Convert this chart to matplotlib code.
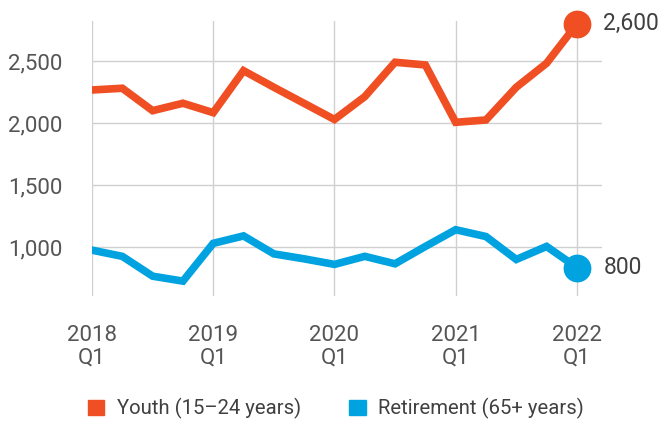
import matplotlib
matplotlib.use("Agg")
import matplotlib.pyplot as plt
from matplotlib.patches import Patch
from matplotlib.ticker import FuncFormatter

plt.rcParams['font.family'] = ['Roboto', 'DejaVu Sans']

# quarterly values, 2018 Q1 .. 2022 Q1
quarters = list(range(17))
youth = [2268, 2282, 2101, 2161, 2085, 2424, 2290, 2160, 2030,
         2214, 2492, 2470, 2007, 2026, 2290, 2484, 2801]
retirement = [975, 925, 765, 725, 1030, 1090, 945, 905, 860,
              925, 865, 1005, 1140, 1085, 900, 1005, 835]
year_ticks = [0, 4, 8, 12, 16]
year_labels = ["2018\nQ1", "2019\nQ1", "2020\nQ1", "2021\nQ1", "2022\nQ1"]
end_labels = ["2,600", "800"]
series_names = ["Youth (15–24 years)", "Retirement (65+ years)"]

orange = "#F04E23"
blue = "#00A3E0"
grey_text = "#555555"

fig = plt.figure(figsize=(6.61, 4.24), dpi=100)
ax = fig.add_axes([0.1392, 0.3019, 0.7716, 0.6486])

ax.plot(quarters, youth, color=orange, lw=5.5, solid_joinstyle='miter', zorder=3)
ax.plot(quarters, retirement, color=blue, lw=5.5, solid_joinstyle='miter', zorder=3)
ax.plot(quarters[-1], youth[-1], 'o', color=orange, ms=19, zorder=4, clip_on=False)
ax.plot(quarters[-1], retirement[-1], 'o', color=blue, ms=19, zorder=4, clip_on=False)

ax.annotate(end_labels[0], (quarters[-1], youth[-1]), xytext=(19, 0),
            textcoords='offset points', va='center', ha='left',
            fontsize=16.5, color="#404040", annotation_clip=False)
ax.annotate(end_labels[1], (quarters[-1], retirement[-1]), xytext=(19, 0),
            textcoords='offset points', va='center', ha='left',
            fontsize=16.5, color="#404040", annotation_clip=False)

ax.set_xlim(0, 16.83)
ax.set_ylim(605, 2825)
ax.set_yticks([1000, 1500, 2000, 2500])
ax.yaxis.set_major_formatter(FuncFormatter(lambda v, p: f"{int(v):,}"))
ax.set_xticks(year_ticks)
ax.set_xticklabels(year_labels, linespacing=1.1)

for s in ax.spines.values():
    s.set_visible(False)
ax.tick_params(length=0, labelsize=16, labelcolor=grey_text)
ax.tick_params(axis='y', pad=21)
ax.tick_params(axis='x', pad=21)
ax.grid(True, color="#d0d0d0", lw=1)
ax.set_axisbelow(True)

handles = [Patch(color=orange), Patch(color=blue)]
fig.legend(handles, series_names, loc='center', bbox_to_anchor=(0.508, 0.036),
           ncol=2, frameon=False, fontsize=14.6, handlelength=0.8,
           handleheight=0.8, handletextpad=0.6, columnspacing=2.4,
           labelcolor="#404040")

fig.savefig("out.png", dpi=100)
